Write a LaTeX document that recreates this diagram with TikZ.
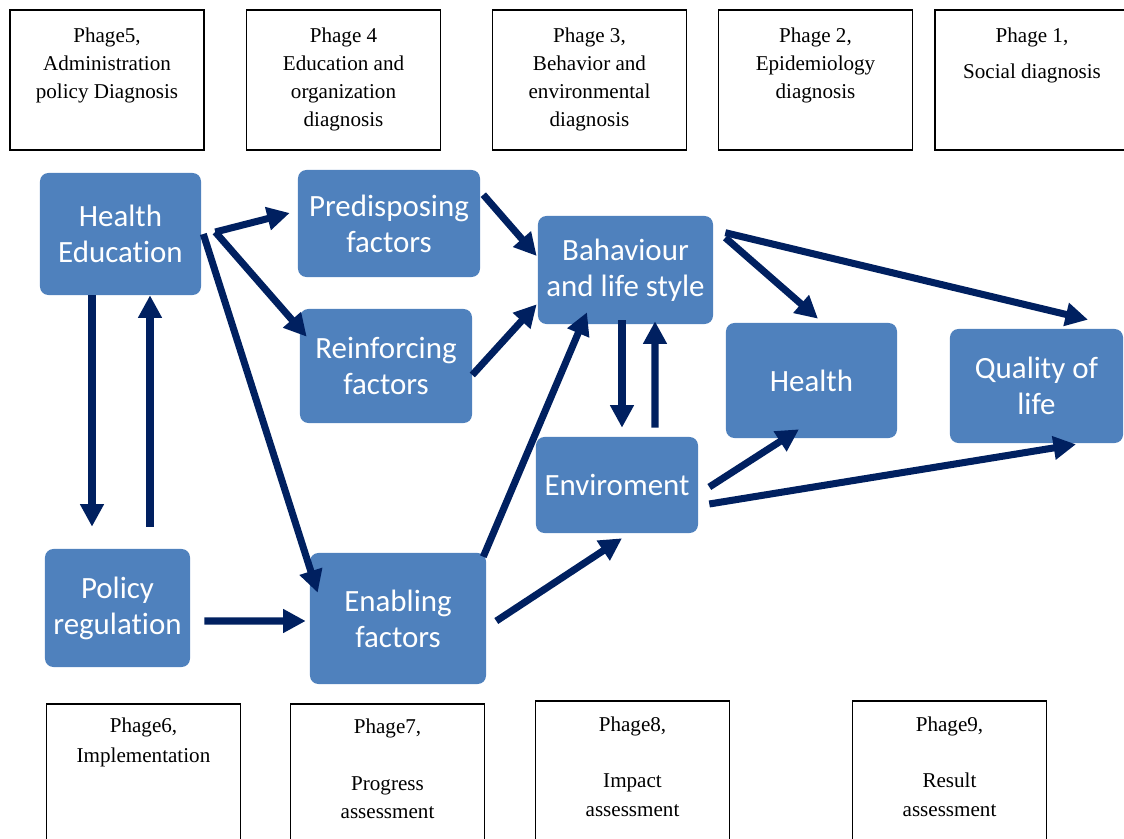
\documentclass[tikz,border=0pt]{standalone}
\usepackage{fontspec}
\setmainfont{Liberation Serif}
\newfontfamily\boxfont[Ligatures={NoCommon}]{Carlito}
\usepackage{xcolor}
\usepackage{tikz}
\usetikzlibrary{arrows.meta, positioning}
\definecolor{boxblue}{RGB}{79,129,189}
\definecolor{arrownavy}{RGB}{0,32,96}

\begin{document}
\begin{tikzpicture}[x=0.025cm, y=-0.025cm,
    phase/.style={rectangle, draw=black, line width=1.2pt, minimum width=4.85cm, minimum height=3.5cm},
    phasetext/.style={inner sep=0pt, align=center, font=\fontsize{15}{20}\selectfont},
    block/.style={rectangle, rounded corners=6pt, fill=boxblue, text=white, align=center, font=\boxfont\fontsize{22}{25.6}\selectfont},
    arrow/.style={-{Triangle[length=16pt, width=16pt]}, line width=5pt, arrownavy}
]
    \useasboundingbox (0,0) rectangle (1124,839);

    % Phases (top)
    \node[phase] (p5) at (107,80) {};
    \node[phase] (p4) at (343.5,80) {};
    \node[phase] (p3) at (589.5,80) {};
    \node[phase] (p2) at (815.5,80) {};
    \node[phase] (p1) at (1032,80) {};
    \node[phasetext, below=0.45cm of p5.north] (p5t) {Phage5,\\Administration\\policy Diagnosis};
    \node[phasetext, below=0.45cm of p4.north] (p4t) {Phage 4\\Education and\\organization\\diagnosis};
    \node[phasetext, below=0.45cm of p3.north] (p3t) {Phage 3,\\Behavior and\\environmental\\diagnosis};
    \node[phasetext, below=0.45cm of p2.north] (p2t) {Phage 2,\\Epidemiology\\diagnosis};
    \node[phasetext, below=0.45cm of p1.north] (p1t) {Phage 1,\\[6pt]Social diagnosis};

    % Phases (bottom)
    \node[phase, anchor=north] (p6) at (143.5,703) {};
    \node[phase, anchor=north] (p7) at (387.5,703) {};
    \node[phase, anchor=north] (p8) at (632.5,700) {};
    \node[phase, anchor=north] (p9) at (949.5,700) {};
    \node[phasetext, below=0.37cm of p6.north] (p6t) {Phage6,\\[1.5pt]Implementation};
    \node[phasetext, below=0.4cm of p7.north] (p7t) {Phage7,\\[20pt]Progress\\assessment};
    \node[phasetext, below=0.42cm of p8.north] (p8t) {Phage8,\\[20pt]Impact\\assessment};
    \node[phasetext, below=0.42cm of p9.north] (p9t) {Phage9,\\[20pt]Result\\assessment};

    % Factors
    \node[block, minimum width=4.025cm, minimum height=3.05cm] (he) at (120.5,234) {Health\\Education};
    \node[block, minimum width=4.55cm, minimum height=2.675cm] (pre) at (389,223.5) {Predisposing\\factors};
    \node[block, minimum width=4.3cm, minimum height=2.85cm] (rei) at (386,366) {Reinforcing\\factors};
    \node[block, minimum width=4.375cm, minimum height=2.7cm] (beh) at (625.5,270) {Bahaviour\\and life style};
    \node[block, minimum width=4.275cm, minimum height=2.875cm] (hea) at (811.5,380.5) {Health};
    \node[block, minimum width=4.325cm, minimum height=2.85cm] (qol) at (1036.5,386) {Quality of\\life};
    \node[block, minimum width=4.05cm, minimum height=2.4cm] (env) at (617,485) {Enviroment};
    \node[block, minimum width=3.625cm, minimum height=2.95cm] (pol) at (117.5,608) {Policy\\regulation};
    \node[block, minimum width=4.4cm, minimum height=3.275cm] (ena) at (398,618.5) {Enabling\\factors};

    % Arrows
    \draw[arrow] ([shift={(-28.5,0)}]he.south) -- ([shift={(-25.5,-22)}]pol.north);
    \draw[arrow] ([shift={(32.5,-22)}]pol.north) -- ([shift={(29.5,0)}]he.south);
    \draw[arrow] ([shift={(14,-2)}]he.east) -- ([shift={(-8,-10.5)}]pre.west);
    \draw[arrow] ([shift={(14,-2)}]he.east) -- ([shift={(7,28)}]rei.north west);
    \draw[arrow] ([shift={(2,0)}]he.east) -- ([shift={(8,40)}]ena.north west);
    \draw[arrow] ([shift={(14,13)}]pol.east) -- ([shift={(-4,2.5)}]ena.west);
    \draw[arrow] ([shift={(3,25)}]pre.north east) -- ([shift={(-1,-14)}]beh.west);
    \draw[arrow] ([shift={(0,9)}]rei.east) -- ([shift={(-1,-20)}]beh.south west);
    \draw[arrow] ([shift={(-3,4)}]ena.north east) -- ([shift={(-38.5,-12)}]beh.south);
    \draw[arrow] ([shift={(10,2.5)}]ena.east) -- ([shift={(5,5)}]env.south);
    \draw[arrow] ([shift={(-3.5,-4)}]beh.south) -- ([shift={(5,-9)}]env.north);
    \draw[arrow] ([shift={(38,-9)}]env.north) -- ([shift={(29.5,-3)}]beh.south);
    \draw[arrow] ([shift={(12,22)}]beh.north east) -- ([shift={(6.5,-4)}]hea.north);
    \draw[arrow] ([shift={(12,17)}]beh.north east) -- ([shift={(51.5,-9)}]qol.north);
    \draw[arrow] ([shift={(11,2)}]env.east) -- ([shift={(-12.5,-9)}]hea.south);
    \draw[arrow] ([shift={(11,19)}]env.east) -- ([shift={(39.5,1)}]qol.south);
\end{tikzpicture}
\end{document}
